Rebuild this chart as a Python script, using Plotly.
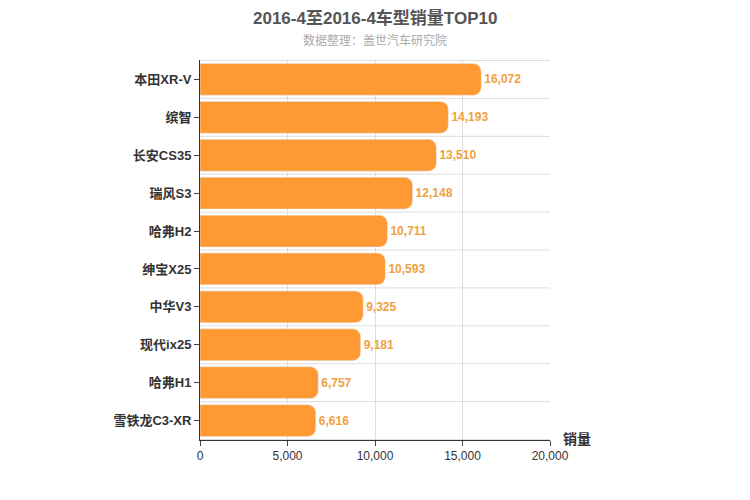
import plotly.graph_objects as go

models = ['本田XR-V', '缤智', '长安CS35', '瑞风S3', '哈弗H2', '绅宝X25', '中华V3', '现代ix25', '哈弗H1', '雪铁龙C3-XR']
sales = [16072, 14193, 13510, 12148, 10711, 10593, 9325, 9181, 6757, 6616]

fig = go.Figure(go.Bar(
    x=sales, y=models, orientation='h',
    marker=dict(color='#FF9933', cornerradius=8),
    width=0.84,
    text=[f'<b>{v:,}</b>' for v in sales], textposition='outside',
    textfont=dict(color='#F0A040', size=12, family='Liberation Sans'),
    cliponaxis=False,
))

# separator lines between categories
for i in range(len(models) + 1):
    fig.add_shape(type='line', xref='x', yref='y', x0=0, x1=20000,
                  y0=i - 0.5, y1=i - 0.5, line=dict(color='#DDDDDD', width=1), layer='below')

fig.update_layout(
    width=750, height=500,
    margin=dict(l=192, r=208, t=52, b=68, autoexpand=False),
    plot_bgcolor='white', paper_bgcolor='white',
    showlegend=False,
    font=dict(family='Liberation Sans, Noto Sans CJK SC'),
    annotations=[
        dict(text='<b>2016-4至2016-4车型销量TOP10</b>', xref='paper', yref='paper', x=0.5, y=1.11,
             yanchor='middle', showarrow=False, font=dict(size=17, color='#555555')),
        dict(text='数据整理：盖世汽车研究院', xref='paper', yref='paper', x=0.5, y=1.05, yanchor='middle',
             showarrow=False, font=dict(size=12, color='#AAAAAA')),
        dict(text='<b>销量</b>', xref='paper', yref='paper', x=1.03, y=-0.025, xanchor='left',
             showarrow=False, font=dict(size=14, color='#333333')),
    ],
    xaxis=dict(range=[0, 20000], tickvals=[0, 5000, 10000, 15000, 20000], tickformat=',',
               showgrid=True, gridcolor='#DDDDDD', zeroline=False, showline=True,
               linecolor='#333333', ticks='outside', ticklen=5, automargin=False,
               tickfont=dict(size=12, color='#333333')),
    yaxis=dict(autorange='reversed', showline=True, linecolor='#333333', ticks='outside',
               ticklen=5, tickmode='array', tickvals=models, ticktext=[f'<b>{m}</b>' for m in models],
               automargin=False, tickfont=dict(size=13, color='#333333')),
)
fig.write_html('out.html')
